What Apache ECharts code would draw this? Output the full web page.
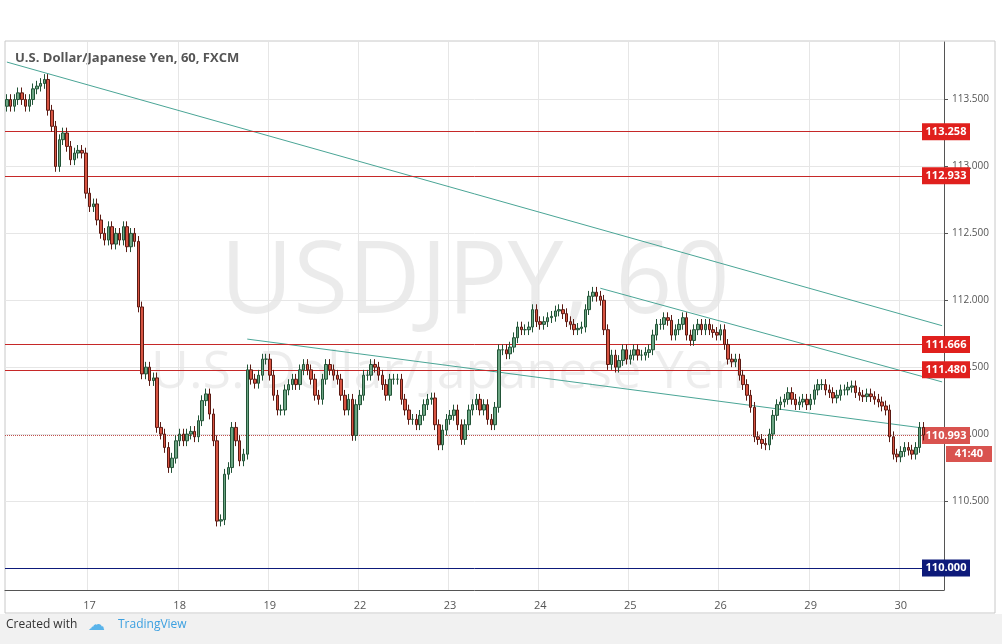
<!DOCTYPE html>
<html>
<head>
<meta charset="utf-8">
<script src="https://cdn.jsdelivr.net/npm/echarts@6/dist/echarts.min.js"></script>
<style>
  html, body { margin: 0; padding: 0; background: #fff; }
  #chart { width: 1002px; height: 644px; }
</style>
</head>
<body>
<div id="chart"></div>
<script>
// hourly closes (16th 01:00 onwards, weekend skipped)
var closes = [
  113.50,113.45,113.50,113.55,113.50,113.45,113.50,113.58,113.60,113.62,113.65,
  113.42,113.30,113.00,113.20,113.25,113.15,113.05,113.10,113.12,113.10,112.80,112.70,112.72,112.60,
  112.50,112.45,112.55,112.42,112.50,112.45,112.55,112.40,112.50,112.44,111.95,111.45,111.50,111.40,111.42,
  111.05,111.00,110.90,110.75,110.82,110.95,111.00,110.95,111.00,111.02,110.98,111.10,111.25,111.30,111.15,
  110.95,110.35,110.36,110.70,110.75,111.05,110.95,110.80,110.85,
  111.48,111.41,111.38,111.44,111.56,111.56,111.44,111.29,111.18,111.18,111.33,111.37,111.41,111.37,111.48,
  111.52,111.48,111.41,111.29,111.26,111.41,111.52,111.48,111.44,111.41,111.29,111.18,111.26,110.99,111.22,
  111.29,111.44,111.44,111.52,111.50,111.44,111.37,111.29,111.41,111.41,111.41,111.26,111.18,111.11,111.11,
  111.07,111.14,111.22,111.26,111.27,111.07,110.92,111.03,111.11,111.14,111.18,111.07,110.96,111.07,111.18,
  111.22,111.26,111.18,111.22,111.11,111.07,111.20,111.63,111.63,111.60,
  111.65,111.72,111.80,111.78,111.78,111.80,111.93,111.84,111.82,111.84,111.87,111.88,111.92,111.93,111.90,
  111.84,111.82,111.78,111.79,111.80,111.93,112.03,112.06,112.03,112.00,111.78,111.52,111.59,111.50,111.55,
  111.63,111.56,111.59,111.63,111.59,111.59,111.61,111.63,111.74,111.82,111.82,111.87,111.85,111.74,111.78,
  111.82,111.87,111.74,111.70,111.78,111.82,111.78,111.82,111.78,111.76,111.74,111.78,111.67,111.56,111.54,
  111.56,111.44,111.37,111.29,111.20,
  110.98,110.96,110.93,110.92,111.00,111.14,111.22,111.24,111.26,111.31,111.26,111.22,111.24,111.26,111.22,
  111.26,111.33,111.37,111.37,111.33,111.31,111.27,111.29,111.33,111.33,111.35,111.36,111.31,111.29,111.28,
  111.30,111.28,111.26,111.24,111.21,111.18,110.98,110.85,110.83,110.87,110.90,110.88,110.85,110.90,111.05,
  110.993
];
var firstOpen = 113.45;
var wick = 0.04;
var dayLabels = ['17', '18', '19', '22', '23', '24', '25', '26', '29', '30'];
var firstDayIndex = 22;
var yTicks = [110.5, 111.0, 111.5, 112.0, 112.5, 113.0, 113.5];
var levels = [113.258, 112.933, 111.666, 111.480];
var support = 110.000;
var lastPrice = 110.993;
var padCandles = 5;

var cats = [], ohlc = [];
var prev = firstOpen;
for (var i = 0; i < closes.length; i++) {
  var o = prev, c = closes[i];
  ohlc.push([o, c, Math.min(o, c) - wick, Math.max(o, c) + wick]);
  var k = i - firstDayIndex;
  cats.push(k >= 0 && k % 24 === 0 ? dayLabels[k / 24] : '');
  prev = c;
}
for (var j = 0; j < padCandles; j++) { cats.push(''); ohlc.push('-'); }
var isDay = function (idx) { return cats[idx] !== ''; };
var n = cats.length;

var teal = '#4aa596';
var trend = [
  [[0, 113.78], [n - 1, 111.81]],
  [[64, 111.71], [n - 2, 111.03]],
  [[158, 112.09], [n - 1, 111.39]]
];

function levelLine(value, color, bg, type) {
  return {
    type: 'line', data: [], silent: true, color: color,
    markLine: {
      silent: true, symbol: ['none', 'none'], animation: false,
      lineStyle: { color: color, width: 1, type: type },
      label: {
        show: true, position: 'end', distance: 2, formatter: value.toFixed(3),
        backgroundColor: bg, color: '#fff', fontFamily: 'Open Sans', fontWeight: 'bold', fontSize: 11,
        padding: [3, 4], width: 40, align: 'center'
      },
      data: [{ yAxis: value, lineStyle: { color: color, width: 1, type: type } }]
    }
  };
}

var series = [{
  type: 'candlestick', data: ohlc, barWidth: 3, z: 5,
  itemStyle: { color: '#6ba583', color0: '#d75442', borderColor: '#225437', borderColor0: '#5b1a13', borderWidth: 1 }
}, {
  type: 'line', data: [], silent: true,
  markLine: {
    silent: true, symbol: ['none', 'none'], animation: false,
    lineStyle: { color: '#e6e6e6', width: 1, type: 'solid' }, label: { show: false },
    data: yTicks.map(function (t) { return { yAxis: t }; })
  }
}, {
  type: 'line', data: [], silent: true,
  markLine: {
    silent: true, symbol: ['none', 'none'], animation: false,
    lineStyle: { color: teal, width: 1, type: 'solid' }, label: { show: false },
    data: trend.map(function (t) { return [{ coord: t[0] }, { coord: t[1] }]; })
  }
}];
levels.forEach(function (v) { series.push(levelLine(v, '#c62828', '#e0201d', 'solid')); });
series.push(levelLine(support, '#0d1a7a', '#0d1a7a', 'solid'));
series.push(levelLine(lastPrice, '#c0504d', '#d9534f', 'dotted'));

var chart = echarts.init(document.getElementById('chart'));
chart.setOption({
  animation: false,
  backgroundColor: '#fff',
  textStyle: { fontFamily: 'Open Sans' },
  graphic: [
    { type: 'rect', z: -10, shape: { x: 0, y: 614, width: 1002, height: 30 }, style: { fill: '#f1f1f1' } },
    { type: 'rect', z: -10, shape: { x: 5, y: 41, width: 990, height: 572 }, style: { fill: 'none', stroke: '#c8c8c8' } },
    { type: 'text', left: 6, top: 619, style: { text: 'Created with', fontSize: 12, fill: '#333', fontFamily: 'Open Sans' } },
    { type: 'text', left: 118, top: 619, style: { text: 'TradingView', fontSize: 12, fill: '#3ca0e0', fontFamily: 'Open Sans' } },
    { type: 'text', left: 88, top: 617, style: { text: '☁', fontSize: 17, fill: '#58b3ea' } },
    { type: 'text', left: 15, top: 52, style: { text: 'U.S. Dollar/Japanese Yen, 60, FXCM', fontSize: 13, fontWeight: 'bold', fill: '#555', fontFamily: 'Open Sans' } },
    { type: 'text', x: 475, y: 285, z: -1, style: { text: 'USDJPY, 60', fontSize: 100, fill: 'rgba(0,0,0,0.08)', align: 'center', verticalAlign: 'middle', fontFamily: 'Open Sans' } },
    { type: 'text', x: 448, y: 373, z: -1, style: { text: 'U.S. Dollar/Japanese Yen', fontSize: 52, fill: 'rgba(0,0,0,0.07)', align: 'center', verticalAlign: 'middle', fontFamily: 'Open Sans' } },
    { type: 'rect', shape: { x: 946, y: 446, width: 46, height: 16 }, style: { fill: '#d9534f' } },
    { type: 'text', x: 969, y: 454, style: { text: '41:40', fontSize: 11, fontWeight: 'bold', fill: '#fff', align: 'center', verticalAlign: 'middle', fontFamily: 'Open Sans' } }
  ],
  grid: { left: 5, right: 58, top: 42, bottom: 54 },
  xAxis: {
    type: 'category', data: cats, boundaryGap: true,
    axisLine: { lineStyle: { color: '#555' } },
    axisTick: { show: false },
    axisLabel: { interval: function (idx) { return isDay(idx); }, color: '#555', fontSize: 11, margin: 10 },
    splitLine: { show: true, interval: function (idx) { return isDay(idx); }, lineStyle: { color: '#e6e6e6' } }
  },
  yAxis: {
    type: 'value', position: 'right', min: 109.835, max: 113.93, scale: true,
    axisLine: { show: true, lineStyle: { color: '#555' } },
    splitLine: { show: false },
    axisTick: { show: true, customValues: yTicks, length: 4 },
    axisLabel: { customValues: yTicks, color: '#555', fontSize: 10, formatter: function (v) { return v.toFixed(3); } }
  },
  series: series
});
</script>
</body>
</html>
